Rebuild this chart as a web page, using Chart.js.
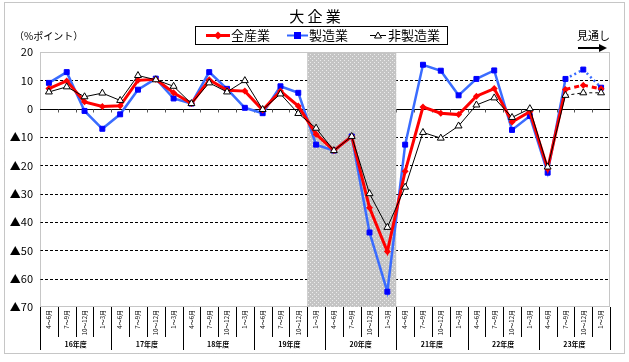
<!DOCTYPE html>
<html lang="ja">
<head>
<meta charset="utf-8">
<script src="https://cdn.jsdelivr.net/npm/chart.js@4/dist/chart.umd.min.js"></script>
<style>
  html, body { margin: 0; padding: 0; background: #fff; }
  #wrap { width: 629px; height: 362px; position: relative; }
</style>
</head>
<body>
<div id="wrap"><canvas id="bizChart"></canvas></div>
<script>
const quarters = ['4～6月', '7～9月', '10～12月', '1～3月'];
const fiscalYears = ['16年度', '17年度', '18年度', '19年度', '20年度', '21年度', '22年度', '23年度'];
const categories = fiscalYears.flatMap(() => quarters);

const allIndustries = [7.1, 9.8, 2.4, 0.8, 1.0, 10.0, 10.4, 5.6, 1.8, 10.2, 6.5, 6.2,
  -0.5, 6.2, 0.9, -9.0, -14.8, -9.8, -35.0, -50.4, -22.1, 0.6, -1.6, -2.1,
  4.4, 7.1, -4.7, -1.1, -21.2, 6.8, 8.3, 7.0];
const manufacturing = [9.1, 12.9, -0.8, -7.1, -2.0, 6.7, 10.6, 3.6, 1.8, 12.9, 7.0, 0.3,
  -1.6, 7.9, 5.6, -12.7, -14.8, -9.8, -43.7, -64.6, -12.7, 15.5, 13.4, 4.7,
  10.5, 13.5, -7.5, -2.6, -22.6, 10.5, 13.8, 7.4];
const nonManufacturing = [5.9, 7.7, 4.2, 5.5, 2.9, 11.7, 10.2, 7.9, 1.8, 9.1, 5.9, 9.9,
  -0.3, 5.2, -1.7, -6.9, -14.8, -9.8, -30.0, -41.9, -27.7, -8.4, -10.4, -6.1,
  1.3, 3.8, -3.1, 0.0, -20.6, 4.7, 5.6, 5.6];

const yTicks = [20, 10, 0, -10, -20, -30, -40, -50, -60, -70];
const shadedFrom = 15;   // 19年度 1～3月
const shadedTo = 19;     // 20年度 1～3月
const forecastFrom = 29; // 見通し

const FONT = '"Noto Sans CJK JP", "Noto Sans", sans-serif';

// gray dotted pattern for the shaded period
const patCanvas = document.createElement('canvas');
patCanvas.width = 4; patCanvas.height = 4;
const pctx = patCanvas.getContext('2d');
pctx.fillStyle = '#c4c4c4';
pctx.fillRect(0, 0, 4, 4);
pctx.fillStyle = '#ececec';
pctx.fillRect(0, 0, 1, 1);
pctx.fillRect(2, 2, 1, 1);

const dashAfter = (dash) => (ctx) => ctx.p0DataIndex >= forecastFrom ? dash : undefined;

const line = (ctx, x1, y1, x2, y2) => {
  ctx.beginPath();
  ctx.moveTo(x1, y1);
  ctx.lineTo(x2, y2);
  ctx.stroke();
};

const decor = {
  id: 'decor',
  beforeDatasetsDraw(chart) {
    const { ctx, chartArea: a, scales: { x, y } } = chart;
    const half = (x.getPixelForValue(1) - x.getPixelForValue(0)) / 2;
    ctx.save();
    ctx.lineWidth = 1;

    // dashed gridlines
    ctx.strokeStyle = '#000';
    ctx.setLineDash([3, 2]);
    yTicks.forEach(v => {
      if (v === 0 || v === 20 || v === -70) return;
      const py = Math.round(y.getPixelForValue(v)) + 0.5;
      line(ctx, a.left, py, a.right, py);
    });

    // plot frame
    ctx.strokeStyle = '#8c8c8c';
    ctx.setLineDash([1, 1]);
    ctx.strokeRect(a.left + 0.5, a.top + 0.5, a.width - 1, a.height - 1);

    // zero line with tick marks
    ctx.setLineDash([]);
    ctx.strokeStyle = '#000';
    const zy = Math.round(y.getPixelForValue(0)) + 0.5;
    line(ctx, a.left, zy, a.right, zy);
    ctx.strokeStyle = '#555';
    for (let i = 1; i < categories.length; i++) {
      const px = Math.round(x.getPixelForValue(i) - half) + 0.5;
      line(ctx, px, zy, px, zy + 3);
    }

    // shaded period
    ctx.fillStyle = ctx.createPattern(patCanvas, 'repeat');
    const sx1 = x.getPixelForValue(shadedFrom) - half;
    const sx2 = x.getPixelForValue(shadedTo) + half;
    ctx.fillRect(sx1, a.top + 1, sx2 - sx1, a.height - 1);
    ctx.restore();
  },
  afterDraw(chart) {
    const { ctx, chartArea: a, scales: { x } } = chart;
    const half = (x.getPixelForValue(1) - x.getPixelForValue(0)) / 2;
    ctx.save();

    // outer border
    ctx.strokeStyle = '#8c8c8c';
    ctx.lineWidth = 1;
    ctx.setLineDash([1, 1]);
    ctx.strokeRect(4.5, 2.5, 620, 351);

    // category separators under the axis
    ctx.setLineDash([]);
    ctx.strokeStyle = '#000';
    for (let i = 0; i <= categories.length; i++) {
      const px = Math.round(x.getPixelForValue(Math.min(i, categories.length - 1)) + (i === categories.length ? half : -half)) + 0.5;
      const yearEdge = i % 4 === 0;
      line(ctx, px, a.bottom, px, a.bottom + (yearEdge ? 43 : 30));
    }

    // fiscal year labels
    ctx.fillStyle = '#000';
    ctx.font = 'bold 7px ' + FONT;
    ctx.textAlign = 'center';
    ctx.textBaseline = 'middle';
    fiscalYears.forEach((fy, k) => {
      const cx = (x.getPixelForValue(k * 4) + x.getPixelForValue(k * 4 + 3)) / 2;
      ctx.fillText(fy, cx, a.bottom + 37);
    });

    // title
    ctx.font = '15px ' + FONT;
    ctx.fillText('大 企 業', 315, 16);

    // unit
    ctx.font = '10px ' + FONT;
    ctx.textAlign = 'left';
    ctx.fillText('（%ポイント）', 14, 36);

    // forecast marker
    ctx.font = '11px ' + FONT;
    ctx.fillText('見通し', 577, 36);
    ctx.lineWidth = 2;
    line(ctx, 578, 48, 600, 48);
    ctx.beginPath();
    ctx.moveTo(607, 48);
    ctx.lineTo(599, 44);
    ctx.lineTo(599, 52);
    ctx.closePath();
    ctx.fill();

    // legend
    ctx.lineWidth = 1;
    ctx.strokeRect(195.5, 26.5, 252, 18);
    const ly = 35.5;
    ctx.font = '13px ' + FONT;
    // 全産業
    ctx.strokeStyle = '#ff0000'; ctx.lineWidth = 3;
    line(ctx, 206, ly, 230, ly);
    ctx.fillStyle = '#ff0000';
    ctx.beginPath();
    ctx.moveTo(218, ly - 4); ctx.lineTo(222, ly); ctx.lineTo(218, ly + 4); ctx.lineTo(214, ly);
    ctx.closePath(); ctx.fill();
    ctx.fillStyle = '#000';
    ctx.fillText('全産業', 231, ly);
    // 製造業
    ctx.strokeStyle = '#3366ff'; ctx.lineWidth = 2;
    line(ctx, 287, ly, 308, ly);
    ctx.fillStyle = '#0000ff';
    ctx.fillRect(294, ly - 3.5, 7, 7);
    ctx.fillStyle = '#000';
    ctx.fillText('製造業', 309, ly);
    // 非製造業
    ctx.strokeStyle = '#000'; ctx.lineWidth = 1;
    line(ctx, 370, ly, 386, ly);
    ctx.fillStyle = '#fff';
    ctx.beginPath();
    ctx.moveTo(378, ly - 3.5); ctx.lineTo(381.5, ly + 2.5); ctx.lineTo(374.5, ly + 2.5);
    ctx.closePath(); ctx.fill(); ctx.stroke();
    ctx.fillStyle = '#000';
    ctx.fillText('非製造業', 388, ly);

    ctx.restore();
  }
};

new Chart(document.getElementById('bizChart'), {
  type: 'line',
  data: {
    labels: categories,
    datasets: [
      {
        label: '全産業',
        data: allIndustries,
        borderColor: '#ff0000',
        backgroundColor: '#ff0000',
        borderWidth: 3,
        pointStyle: 'rectRot',
        pointRadius: 3.5,
        pointBorderWidth: 0,
        segment: { borderDash: dashAfter([5, 4]) },
        order: 1
      },
      {
        label: '製造業',
        data: manufacturing,
        borderColor: '#3a6cff',
        backgroundColor: '#0000ff',
        pointBorderColor: '#0000ff',
        borderWidth: 2.5,
        pointStyle: 'rect',
        pointRadius: 3.5,
        pointBorderWidth: 1,
        segment: { borderDash: dashAfter([2, 3]) },
        order: 2
      },
      {
        label: '非製造業',
        data: nonManufacturing,
        borderColor: '#000',
        backgroundColor: '#fff',
        pointBorderColor: '#000',
        borderWidth: 1,
        pointStyle: 'triangle',
        pointRadius: 4,
        pointBorderWidth: 1,
        segment: { borderDash: dashAfter([3, 3]) },
        order: 0
      }
    ]
  },
  options: {
    responsive: true,
    maintainAspectRatio: false,
    animation: false,
    layout: { padding: { top: 52, right: 19, left: 0, bottom: 0 } },
    elements: { line: { tension: 0 } },
    scales: {
      x: {
        offset: true,
        grid: { display: false, drawTicks: false },
        border: { display: false },
        ticks: {
          autoSkip: false,
          minRotation: 90,
          maxRotation: 90,
          padding: 3,
          color: '#000',
          font: { family: FONT, size: 6 }
        },
        afterFit: (s) => { s.height = 55; }
      },
      y: {
        min: -70,
        max: 20,
        grid: { display: false, drawTicks: false },
        border: { display: false },
        ticks: {
          stepSize: 10,
          padding: 7,
          color: '#000',
          font: { family: FONT, size: 11 },
          callback: (v) => v < 0 ? '▲' + Math.abs(v) : String(v)
        },
        afterFit: (s) => { s.width = 40; }
      }
    },
    plugins: {
      legend: { display: false },
      tooltip: { enabled: false },
      title: { display: false }
    }
  },
  plugins: [decor]
});
</script>
</body>
</html>
